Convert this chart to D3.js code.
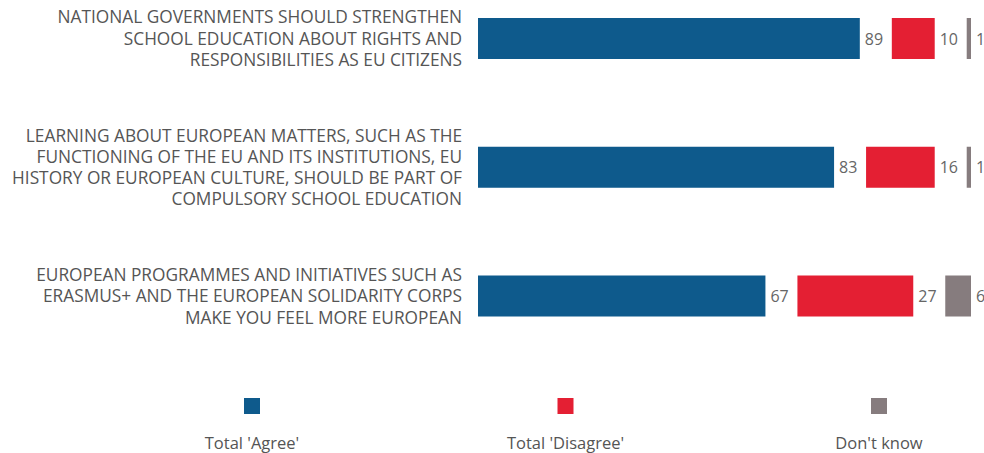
<!DOCTYPE html>
<html><head><meta charset="utf-8">
<script src="https://cdn.jsdelivr.net/npm/d3@7"></script>
<style>body{margin:0;background:#fff;}svg{display:block;}</style>
</head><body>
<svg id="c" width="984" height="453"></svg>
<script>
const categories = [
  ["NATIONAL GOVERNMENTS SHOULD STRENGTHEN","SCHOOL EDUCATION ABOUT RIGHTS AND","RESPONSIBILITIES AS EU CITIZENS"],
  ["LEARNING ABOUT EUROPEAN MATTERS, SUCH AS THE","FUNCTIONING OF THE EU AND ITS INSTITUTIONS, EU","HISTORY OR EUROPEAN CULTURE, SHOULD BE PART OF","COMPULSORY SCHOOL EDUCATION"],
  ["EUROPEAN PROGRAMMES AND INITIATIVES SUCH AS","ERASMUS+ AND THE EUROPEAN SOLIDARITY CORPS","MAKE YOU FEEL MORE EUROPEAN"]
];
const seriesNames = ["Total 'Agree'","Total 'Disagree'","Don't know"];
const agree = [89, 83, 67];
const disagree = [10, 16, 27];
const dontKnow = [1, 1, 6];
const colors = ["#0e5a8c","#e41f33","#867c7e"];

const svg = d3.select("#c");
const font = "'Open Sans', 'Noto Sans', sans-serif";
const x0 = 478, gap = 32, barH = 41;
const w = d3.scaleLinear().domain([0,100]).range([0,429]);
const y = d3.scalePoint().domain([0,1,2]).range([38.5, 296]);

const series = [agree, disagree, dontKnow];

categories.forEach((lines, i) => {
  const cy = y(i);
  const lh = 21.3;
  const t = svg.append("text").attr("font-family", font).attr("font-size", 17.3)
    .attr("fill", "#555").attr("text-anchor","end");
  lines.forEach((ln, j) => {
    t.append("tspan").attr("x", 462)
      .attr("y", cy + (j - (lines.length-1)/2)*lh + 6.2)
      .text(ln);
  });
  let xs = x0;
  series.forEach((s, k) => {
    const v = s[i];
    const bw = w(v);
    svg.append("rect").attr("x", xs).attr("y", cy - barH/2)
      .attr("width", bw).attr("height", barH).attr("fill", colors[k]);
    svg.append("text").attr("x", xs + bw + 5).attr("y", cy + 6)
      .attr("font-family", font).attr("font-size", 16).attr("fill", "#666")
      .text(v);
    xs += bw + gap;
  });
});

const lx = d3.scalePoint().domain(seriesNames).range([252, 879]);
seriesNames.forEach((n, k) => {
  svg.append("rect").attr("x", lx(n) - 8).attr("y", 398).attr("width", 16).attr("height", 16)
    .attr("fill", colors[k]);
  svg.append("text").attr("x", lx(n)).attr("y", 449).attr("text-anchor","middle")
    .attr("font-family", font).attr("font-size", 16.5).attr("fill", "#555").text(n);
});
</script>
</body></html>
